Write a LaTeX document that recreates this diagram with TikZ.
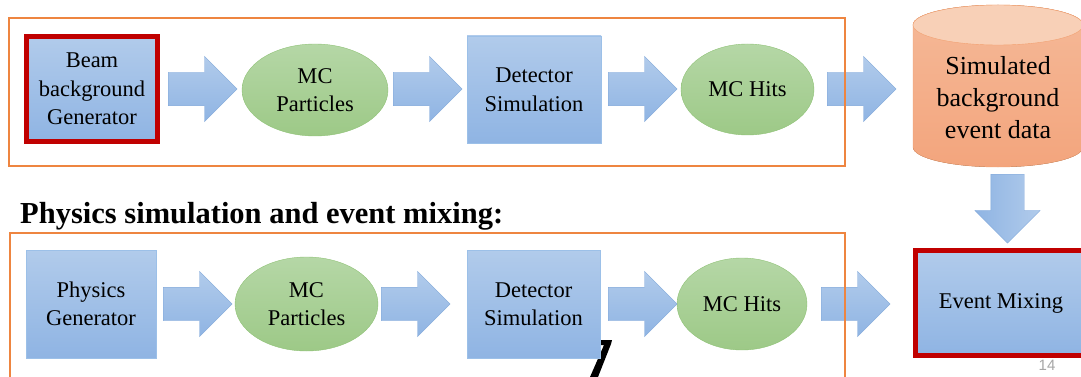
\documentclass[tikz,border=0pt]{standalone}
\usepackage{fontspec}
\setmainfont{Liberation Serif}
\newfontfamily\pagefont{Liberation Sans}
\usetikzlibrary{shapes.geometric,shapes.arrows}
\definecolor{boxtop}{HTML}{B1CBEB}
\definecolor{boxbot}{HTML}{8FB4E3}
\definecolor{boxline}{HTML}{9CC0E8}
\definecolor{arrline}{HTML}{7EA6D9}
\definecolor{celltop}{HTML}{B5D7A6}
\definecolor{cellbot}{HTML}{9DC987}
\definecolor{cellline}{HTML}{8FC276}
\definecolor{redline}{HTML}{C00000}
\definecolor{frameline}{HTML}{EE8540}
\definecolor{cylcap}{HTML}{F8D0B7}
\definecolor{cyltop}{HTML}{F5B998}
\definecolor{cylbot}{HTML}{F3A57D}
\definecolor{cylline}{HTML}{F2A070}
\newcommand{\boxfont}{\fontsize{22.5}{28.5}\selectfont}
\newcommand{\cylfont}{\fontsize{26}{32}\selectfont}
\begin{document}
\begin{tikzpicture}[x=1pt,y=1pt,
    every node/.style={inner sep=0pt},
    genbox/.style={rectangle, draw=boxline, top color=boxtop, bottom color=boxbot, align=center, font=\boxfont},
    redbox/.style={genbox, draw=redline, line width=5pt},
    mcell/.style={ellipse, draw=cellline, top color=celltop, bottom color=cellbot, align=center, font=\boxfont},
    fatarrow/.style={single arrow, draw=arrline, top color=boxtop, bottom color=boxbot, minimum height=69pt, inner sep=16.5pt, single arrow head extend=16pt, single arrow head indent=0pt, anchor=tail},
    frame/.style={draw=frameline, line width=1.5pt}]
    \useasboundingbox (0,0) rectangle (1081,-377);
    % background simulation
    \node [redbox, minimum width=131, minimum height=105] (beamgen) at (92,-89) {Beam\\background\\Generator};
    \node [mcell, minimum width=146, minimum height=92] (mcpart) at (315,-90) {MC\\Particles};
    \node [genbox, minimum width=134, minimum height=107] (detsim) at (534,-89.5) {Detector\\Simulation};
    \node [mcell, minimum width=133, minimum height=91] (mchits) at (747.5,-89.5) {MC Hits};
    \node [fatarrow] (a1) at (168,-89) {};
    \node [fatarrow] (a2) at (393,-89) {};
    \node [fatarrow] (a3) at (608,-89) {};
    \node [fatarrow] (a4) at (827,-89) {};
    \fill [top color=cyltop, bottom color=cylbot, draw=cylline] (913,-25) -- (913,-147)
        arc [start angle=180, end angle=360, x radius=85, y radius=20] -- (1083,-25)
        arc [start angle=0, end angle=180, x radius=85, y radius=20] -- cycle;
    \draw [fill=cylcap, draw=cylline] (998,-25) ellipse [x radius=85, y radius=20];
    \node [align=center, font=\cylfont] (simdata) at (998,-98) {Simulated\\background\\event data};
    \node [fatarrow, shape border rotate=270, left color=boxbot, right color=boxtop] (a5) at (1007.5,-174) {};
    % physics simulation
    \node [anchor=base west, font=\fontsize{30.5}{36}\selectfont\bfseries] (title) at (20,-223) {Physics simulation and event mixing:};
    \fill (595,-340) -- (612,-340) -- (611,-344) -- (598,-377) -- (590,-377) -- (604,-345) -- (595,-345) -- cycle;
    \node [genbox, minimum width=130, minimum height=108] (physgen) at (91,-304) {Physics\\Generator};
    \node [mcell, minimum width=143, minimum height=94] (mcpart2) at (306.5,-304) {MC\\Particles};
    \node [genbox, minimum width=133, minimum height=108] (detsim2) at (533.5,-304) {Detector\\Simulation};
    \node [mcell, minimum width=130, minimum height=92] (mchits2) at (742,-304) {MC Hits};
    \node [redbox, minimum width=171, minimum height=105] (evmix) at (1001,-303) {Event Mixing};
    \node [fatarrow] (b1) at (163,-304) {};
    \node [fatarrow] (b2) at (381,-304) {};
    \node [fatarrow] (b3) at (608,-304) {};
    \node [fatarrow] (b4) at (821,-304) {};
    \node [font=\pagefont\fontsize{15}{17}\selectfont, text=black!35] (pagenum) at (1047,-365.5) {14};
    % frames
    \draw [frame] (9,-18) rectangle (845,-166);
    \draw [frame] (10,-233) rectangle (845,-390);
\end{tikzpicture}
\end{document}
